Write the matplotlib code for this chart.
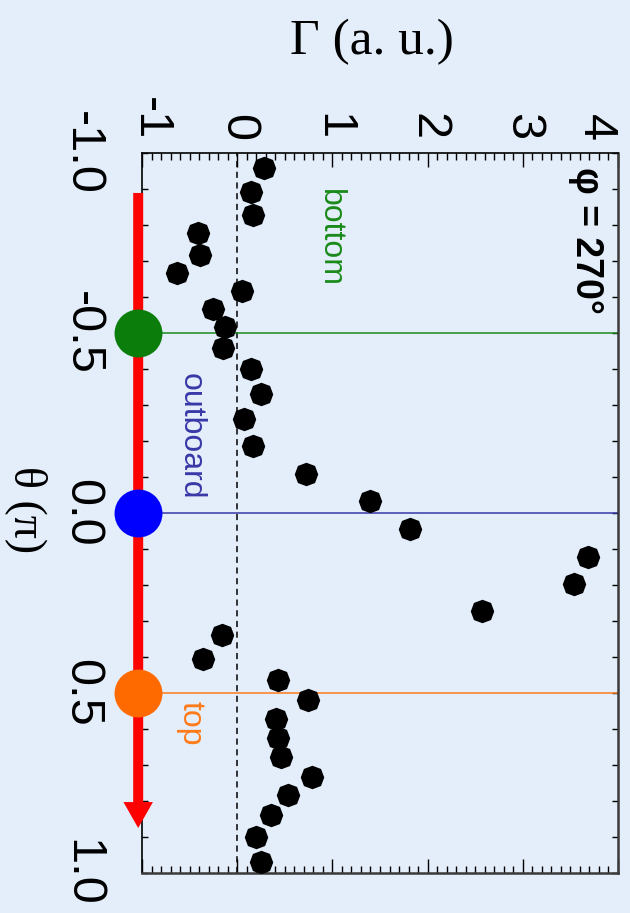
import matplotlib
matplotlib.use("Agg")
import matplotlib.pyplot as plt
from matplotlib.markers import MarkerStyle
from matplotlib.transforms import Affine2D, ScaledTranslation
from matplotlib.ticker import MultipleLocator

# ---- data ----
theta = [-0.958, -0.892, -0.828, -0.778, -0.717, -0.667, -0.617, -0.567, -0.517,
         -0.458, -0.400, -0.331, -0.261, -0.186, -0.108, -0.033, 0.044, 0.122,
         0.197, 0.272, 0.339, 0.406, 0.464, 0.519, 0.572, 0.625, 0.678, 0.733,
         0.783, 0.839, 0.900, 0.969]
gamma = [0.28, 0.15, 0.17, -0.41, -0.39, -0.63, 0.05, -0.25, -0.13,
         -0.15, 0.15, 0.25, 0.07, 0.17, 0.72, 1.39, 1.81, 3.69,
         3.54, 2.57, -0.16, -0.36, 0.43, 0.74, 0.41, 0.43, 0.46, 0.79,
         0.53, 0.36, 0.20, 0.25]

positions = ["bottom", "outboard", "top"]
pos_theta = [-0.5, 0.0, 0.5]
pos_circle_colors = ["#0a7d0a", "#0000ff", "#ff6a00"]
pos_line_colors = ["#1a8a1a", "#3838a8", "#ff7a1a"]
pos_label_gamma = [0.97, -0.49, -0.49]
pos_label_theta = [-0.765, -0.214, 0.583]

theta_ticks = [-1.0, -0.5, 0.0, 0.5, 1.0]
theta_ticklabels = ["-1.0", "-0.5", "0.0", "0.5", "1.0"]
gamma_ticks = [-1, 0, 1, 2, 3, 4]
gamma_ticklabels = ["-1", "0", "1", "2", "3", "4"]

phi_label = "φ = 270°"
arrow_gamma = -1.04
arrow_start, arrow_end = -0.889, 0.875

bg = "#e3eefa"

fig = plt.figure(figsize=(6.3, 9.13), dpi=100)
fig.patch.set_facecolor(bg)
ax = fig.add_axes([142/630, 1-873/913, 476/630, 720/913])
ax.set_facecolor(bg)

ax.set_xlim(-1, 4)
ax.set_ylim(1.0, -1.0)

# zero dashed line
ax.axvline(0, color="black", lw=1.1, ls=(0, (4, 3)), zorder=2)

# position lines
for t, c in zip(pos_theta, pos_line_colors):
    ax.plot([arrow_gamma, 4], [t, t], color=c, lw=1.1, zorder=2, clip_on=False)

# red arrow
ax.arrow(arrow_gamma, arrow_start, 0, arrow_end - arrow_start, width=0.105,
         head_width=0.31, head_length=0.072, length_includes_head=True,
         color="#ff0000", lw=0, zorder=3, clip_on=False)

# big circles
for t, c in zip(pos_theta, pos_circle_colors):
    ax.plot([arrow_gamma], [t], marker="o", ms=34.5, color=c, mec="none",
            zorder=4, clip_on=False)

# position labels
for name, g, t, c in zip(positions, pos_label_gamma, pos_label_theta, pos_line_colors):
    ax.text(g, t, name, color=c, rotation=-90, ha="center", va="center",
            fontsize=23, family="Liberation Sans")

# data points
mk = MarkerStyle("8", transform=Affine2D().rotate_deg(22.5))
ax.plot(gamma, theta, ls="none", marker=mk, ms=16.5, color="black", zorder=5)

ax.text(3.66, -0.758, phi_label, rotation=-90, ha="center", va="center",
        fontsize=27, fontweight="bold", family="Liberation Sans")

# axes / ticks
ax.xaxis.tick_top()
ax.set_xticks(gamma_ticks)
ax.set_xticklabels(gamma_ticklabels)
ax.xaxis.set_minor_locator(MultipleLocator(0.1))
ax.set_yticks(theta_ticks)
ax.set_yticklabels(theta_ticklabels)
ax.yaxis.set_minor_locator(MultipleLocator(0.1))

ax.tick_params(axis="x", which="both", direction="in", top=True, bottom=True,
               labeltop=True, labelbottom=False, labelrotation=-90,
               labelsize=35, pad=9, width=1.0)
ax.tick_params(axis="x", which="major", length=10)
ax.tick_params(axis="x", which="minor", length=5)
ax.tick_params(axis="y", which="both", direction="in", left=True, right=True,
               labelleft=True, labelright=False, labelrotation=-90,
               labelsize=35, pad=27, length=4, width=1.0)
for lab in ax.get_xticklabels() + ax.get_yticklabels():
    lab.set_family("Liberation Sans")
for lab in ax.get_yticklabels():
    lab.set_va("center")

# nudge the end labels of the Γ axis inward, as in the reference
xt = ax.xaxis.get_major_ticks()
for tick, dx in ((xt[0], 8), (xt[-1], -23)):
    tick.label2.set_transform(tick.label2.get_transform() +
                              ScaledTranslation(dx / 100, 0, fig.dpi_scale_trans))

for s in ["left", "top"]:
    ax.spines[s].set_color("black")
    ax.spines[s].set_linewidth(1.2)
for s in ["right", "bottom"]:
    ax.spines[s].set_color("#3a3a3a")
    ax.spines[s].set_linewidth(1.8)

ax.xaxis.set_label_position("top")
ax.set_xlabel("Γ (a. u.)", fontsize=37, family="Liberation Serif", va="center")
ax.xaxis.set_label_coords((372-142)/476, (873-42)/720)
ax.set_ylabel("θ (π)", fontsize=33, family="Liberation Serif", rotation=-90,
              va="center", ha="center")
ax.yaxis.set_label_coords((26-142)/476, (873-510)/720)

fig.savefig("out.png", dpi=100, facecolor=bg)
